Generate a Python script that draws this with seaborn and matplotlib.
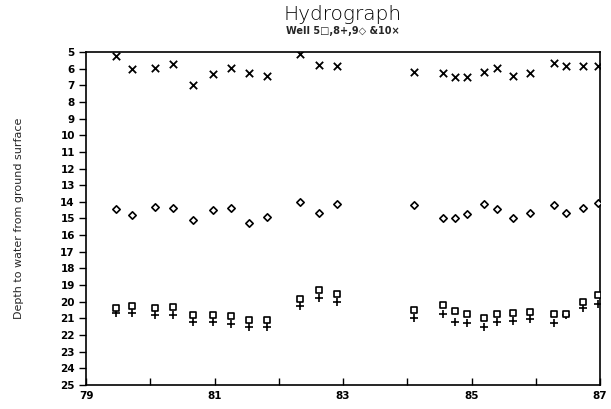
import numpy as np
import pandas as pd
import matplotlib
matplotlib.use("Agg")
import matplotlib.pyplot as plt
import seaborn as sns

# ---- data ----
dates = [79.47, 79.71, 80.07, 80.35, 80.66, 80.98, 81.26, 81.54, 81.82,
         82.33, 82.62, 82.91,
         84.11, 84.56, 84.75, 84.93, 85.20, 85.39, 85.65, 85.91, 86.28, 86.47, 86.74, 86.97]
well10 = [5.22, 6.00, 5.94, 5.73, 6.96, 6.31, 5.98, 6.27, 6.47,
          5.10, 5.78, 5.84,
          6.22, 6.24, 6.53, 6.53, 6.22, 5.98, 6.47, 6.24, 5.69, 5.82, 5.82, 5.82]
well9 = [14.40, 14.76, 14.30, 14.38, 15.12, 14.48, 14.38, 15.28, 14.90,
         13.98, 14.64, 14.12,
         14.18, 15.00, 14.98, 14.72, 14.10, 14.40, 15.00, 14.64, 14.16, 14.64, 14.36, 14.08]
well5 = [20.38, 20.25, 20.38, 20.33, 20.78, 20.78, 20.85, 21.08, 21.08,
         19.85, 19.30, 19.55,
         20.48, 20.18, 20.57, 20.73, 21.00, 20.73, 20.67, 20.60, 20.75, 20.75, 20.02, 19.62]
well8 = [20.65, 20.70, 20.80, 20.80, 21.22, 21.22, 21.36, 21.50, 21.50,
         20.28, 19.80, 20.03,
         21.00, 20.73, 21.20, 21.28, 21.50, 21.20, 21.14, 21.04, 21.25, 20.78, 20.40, 20.12]
xticks = list(range(79, 88))
xticklabels = ["79", "", "81", "", "83", "", "85", "", "87"]
yticks = list(range(5, 26))

df = pd.DataFrame({"date": dates, "w10": well10, "w9": well9, "w5": well5, "w8": well8})

sns.set_theme(style="ticks")
plt.rcParams['font.family'] = ['DejaVu Sans']

fig = plt.figure(figsize=(6.11, 4.09), dpi=100)
ax = fig.add_axes([86/611, 1-385/409, (600-86)/611, (385-52)/409])

sns.scatterplot(data=df, x="date", y="w10", marker="x", s=28, color="black",
                linewidth=1.3, ax=ax, zorder=3)
sns.scatterplot(data=df, x="date", y="w9", marker="D", s=14, facecolor="white",
                edgecolor="black", linewidth=1.2, ax=ax, zorder=3)
sns.scatterplot(data=df, x="date", y="w8", marker="+", s=30, color="black",
                linewidth=1.2, ax=ax, zorder=3)
sns.scatterplot(data=df, x="date", y="w5", marker="s", s=24, facecolor="white",
                edgecolor="black", linewidth=1.2, ax=ax, zorder=4)

ax.set_xlim(79, 87)
ax.set_ylim(25, 5)
ax.set_xticks(xticks)
ax.set_xticklabels(xticklabels, fontsize=7.5, fontweight="bold")
ax.set_yticks(yticks)
ax.set_yticklabels([str(v) for v in yticks], fontsize=7.5, fontweight="bold")
ax.tick_params(axis="x", direction="in", length=5, width=1, pad=4, colors="black")
ax.tick_params(axis="y", direction="out", length=5, width=1, pad=3, colors="black")
for sp in ax.spines.values():
    sp.set_visible(True)
    sp.set_linewidth(1.2)
    sp.set_color("black")
ax.set_xlabel("")
ax.set_ylabel("Depth to water from ground surface", fontsize=8, labelpad=18)
ax.yaxis.set_label_coords(-0.12, 0.5)

fig.text(343/611, 1-14/409, "Hydrograph", ha="center", va="center",
         fontsize=14.5, fontweight="light", color="black")
fig.text(343/611, 1-31/409, "Well 5\u25a1,8+,9\u25c7 &10\u00d7", ha="center", va="center",
         fontsize=7, fontweight="bold")

fig.savefig("out.png", dpi=100)
